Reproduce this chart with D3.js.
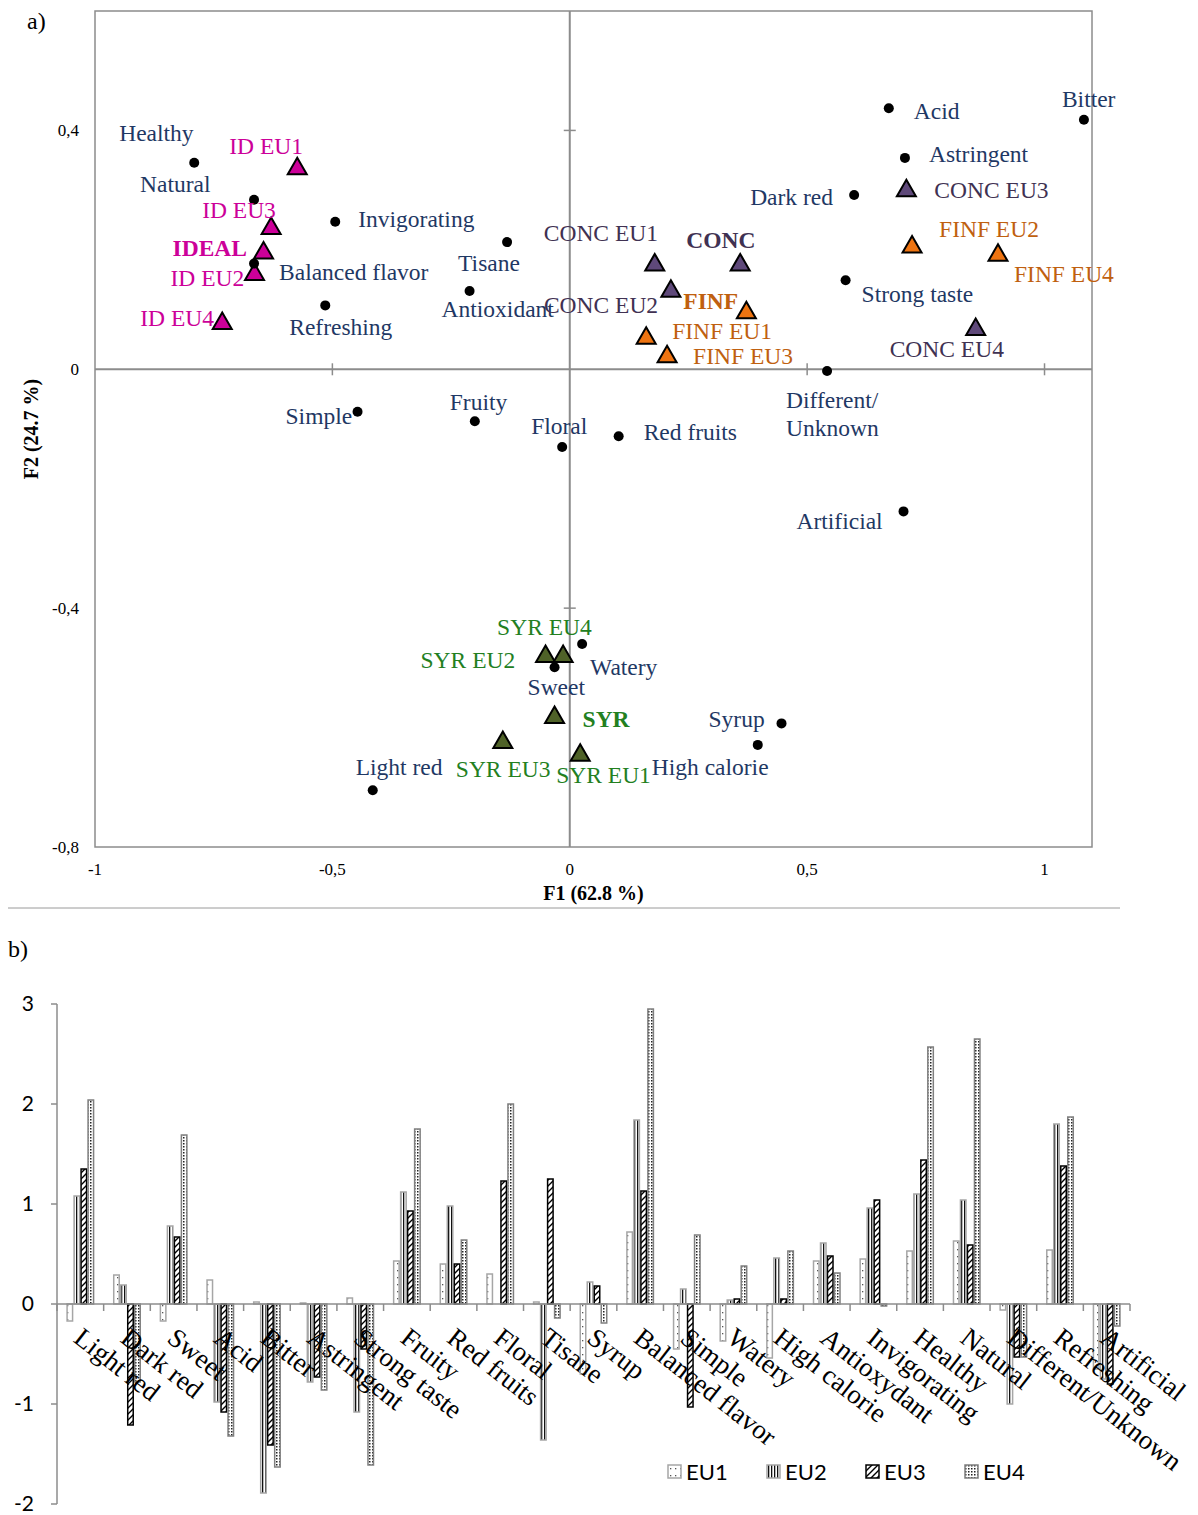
<!DOCTYPE html>
<html>
<head>
<meta charset="utf-8">
<script src="https://cdnjs.cloudflare.com/ajax/libs/d3/7.8.5/d3.min.js"></script>
<style>body{margin:0;background:#fff}</style>
</head>
<body>
<script>
// ---- data: PCA map (a) ----
var attrNames = ["Healthy","Natural","Invigorating","Balanced flavor","Refreshing","Tisane","Antioxidant",
  "Acid","Bitter","Astringent","Dark red","Strong taste","Different/Unknown","Simple","Fruity","Floral",
  "Red fruits","Artificial","Watery","Sweet","Syrup","High calorie","Light red"];
var attrF1 = [-0.791,-0.665,-0.494,-0.665,-0.515,-0.132,-0.211,0.672,1.083,0.706,0.599,0.581,0.542,
  -0.447,-0.200,-0.016,0.103,0.703,0.026,-0.032,0.446,0.396,-0.415];
var attrF2 = [0.346,0.284,0.247,0.177,0.107,0.213,0.131,0.437,0.418,0.354,0.292,0.149,-0.003,
  -0.071,-0.087,-0.130,-0.112,-0.238,-0.460,-0.499,-0.593,-0.629,-0.705];

var prodNames = ["IDEAL","ID EU1","ID EU2","ID EU3","ID EU4","CONC","CONC EU1","CONC EU2","CONC EU3","CONC EU4",
  "FINF","FINF EU1","FINF EU2","FINF EU3","FINF EU4","SYR","SYR EU1","SYR EU2","SYR EU3","SYR EU4"];
var prodF1 = [-0.645,-0.574,-0.664,-0.629,-0.732,0.359,0.179,0.213,0.709,0.855,
  0.372,0.161,0.721,0.205,0.902,-0.032,0.022,-0.051,-0.141,-0.014];
var prodF2 = [0.199,0.340,0.163,0.240,0.081,0.179,0.179,0.135,0.303,0.071,
  0.099,0.056,0.209,0.025,0.195,-0.579,-0.642,-0.477,-0.621,-0.477];
var prodGroup = ["IDEAL","IDEAL","IDEAL","IDEAL","IDEAL","CONC","CONC","CONC","CONC","CONC",
  "FINF","FINF","FINF","FINF","FINF","SYR","SYR","SYR","SYR","SYR"];
var f1Ticks = [-1,-0.5,0,0.5,1];
var f2Ticks = [-0.8,-0.4,0,0.4];

// ---- data: bar chart (b) ----
var categories = ["Light red","Dark red","Sweet","Acid","Bitter","Astringent","Strong taste","Fruity",
  "Red fruits","Floral","Tisane","Syrup","Balanced flavor","Simple","Watery","High calorie","Antioxydant",
  "Invigorating","Healthy","Natural","Different/Unknown","Refreshing","Artificial"];
var seriesNames = ["EU1","EU2","EU3","EU4"];
var eu1 = [-0.17,0.29,-0.17,0.24,0.02,0.01,0.06,0.43,0.40,0.30,0.02,-0.70,0.72,-0.45,-0.37,-0.54,0.43,0.45,0.53,0.63,-0.06,0.54,-0.65];
var eu2 = [1.08,0.19,0.78,-0.98,-1.89,-0.78,-1.08,1.12,0.98,0.00,-1.36,0.22,1.84,0.15,0.04,0.46,0.61,0.96,1.10,1.04,-1.00,1.80,-0.75];
var eu3 = [1.35,-1.21,0.67,-1.08,-1.41,-0.73,-0.45,0.93,0.40,1.23,1.25,0.18,1.13,-1.03,0.05,0.05,0.48,1.04,1.44,0.59,-0.53,1.38,-0.80];
var eu4 = [2.04,-0.78,1.69,-1.32,-1.63,-0.86,-1.61,1.75,0.64,2.00,-0.14,-0.19,2.95,0.69,0.38,0.53,0.31,-0.02,2.57,2.65,-0.53,1.87,-0.22];
var barTicks = [-2,-1,0,1,2,3];

// ---- layout / style ----
var w = 1198, h = 1515;
var serif = "'Liberation Serif','Times New Roman',serif";
var sans = "Lato,'Open Sans',sans-serif";
var axisGray = "#8c8c8c";
var groupFill = {IDEAL:"#cc0099", CONC:"#5f497a", FINF:"#ee7411", SYR:"#4f6228"};
var groupText = {IDEAL:"#cc0099", CONC:"#403152", FINF:"#c0600f", SYR:"#23801f"};
var attrColor = "#1f3864";

// label offsets from marker (px): [dx, dy of baseline]
var labelPos = {
  "Healthy":[-75,-22],"Natural":[-114,-8],"Invigorating":[23,5],"Balanced flavor":[25,16],
  "Refreshing":[-36,30],"Tisane":[-49,29],"Antioxidant":[-28,26],"Acid":[25,11],"Bitter":[-22,-13],
  "Astringent":[24,4],"Dark red":[-104,10],"Strong taste":[16,22],"Different/Unknown":[-41,37],
  "Simple":[-72,12],"Fruity":[-25,-11],"Floral":[-31,-13],"Red fruits":[25,4],"Artificial":[-107,18],
  "Watery":[8,31],"Sweet":[-27,28],"Syrup":[-73,4],"High calorie":[-106,30],"Light red":[-17,-15],
  "ID EU1":[-68,-12],"ID EU3":[-69,-8],"IDEAL":[-91,6],"ID EU2":[-84,14],"ID EU4":[-82,5],
  "CONC EU1":[-111,-21],"CONC":[-54,-14],"CONC EU2":[-127,24],"CONC EU3":[28,10],"CONC EU4":[-86,30],
  "FINF":[-63,-1],"FINF EU1":[26,3],"FINF EU2":[27,-7],"FINF EU3":[26,10],"FINF EU4":[16,29],
  "SYR":[28,12],"SYR EU1":[-24,30],"SYR EU2":[-125,14],"SYR EU3":[-47,37],"SYR EU4":[-66,-19]
};
var means = ["IDEAL","CONC","FINF","SYR"];

var svg = d3.select("body").append("svg").attr("width", w).attr("height", h)
  .style("background", "#fff");

// ================= (a) PCA map =================
var xS = d3.scaleLinear().domain([-1, 1.1]).range([95, 1092]);
var yS = d3.scaleLinear().domain([-0.8, 0.6]).range([847, 11]);

svg.append("text").attr("x", 27).attr("y", 29).text("a)")
  .attr("font-family", serif).attr("font-size", "24px");

svg.append("rect").attr("x", xS(-1)).attr("y", yS(0.6))
  .attr("width", xS(1.1) - xS(-1)).attr("height", yS(-0.8) - yS(0.6))
  .attr("fill", "none").attr("stroke", axisGray).attr("stroke-width", 1.5);

// zero lines
svg.append("line").attr("x1", xS(-1)).attr("x2", xS(1.1)).attr("y1", yS(0)).attr("y2", yS(0))
  .attr("stroke", axisGray).attr("stroke-width", 2);
svg.append("line").attr("x1", xS(0)).attr("x2", xS(0)).attr("y1", yS(0.6)).attr("y2", yS(-0.8))
  .attr("stroke", axisGray).attr("stroke-width", 2);

// cross ticks on zero lines
svg.selectAll(".xt").data(f1Ticks.filter(function(d){ return d != 0 && d != -1; })).enter()
  .append("line").attr("x1", function(d){ return xS(d); }).attr("x2", function(d){ return xS(d); })
  .attr("y1", yS(0) - 6).attr("y2", yS(0) + 6).attr("stroke", axisGray).attr("stroke-width", 1.5);
svg.selectAll(".yt").data(f2Ticks.filter(function(d){ return d != 0 && d != -0.8; })).enter()
  .append("line").attr("y1", function(d){ return yS(d); }).attr("y2", function(d){ return yS(d); })
  .attr("x1", xS(0) - 6).attr("x2", xS(0) + 6).attr("stroke", axisGray).attr("stroke-width", 1.5);

function comma(d) { return String(d).replace(".", ","); }

svg.selectAll(".xl").data(f1Ticks).enter().append("text")
  .attr("x", function(d){ return xS(d); }).attr("y", 875)
  .attr("text-anchor", "middle").attr("font-family", serif).attr("font-size", "17px")
  .text(comma);
svg.selectAll(".yl").data(f2Ticks).enter().append("text")
  .attr("x", 79).attr("y", function(d){ return yS(d) + 6; })
  .attr("text-anchor", "end").attr("font-family", serif).attr("font-size", "17px")
  .text(comma);

svg.append("text").attr("x", (xS(-1) + xS(1.1)) / 2).attr("y", 900)
  .attr("text-anchor", "middle").attr("font-family", serif).attr("font-weight", "bold")
  .attr("font-size", "20px").text("F1 (62.8 %)");
svg.append("text").attr("transform", "translate(38," + ((yS(0.6) + yS(-0.8)) / 2) + ") rotate(-90)")
  .attr("text-anchor", "middle").attr("font-family", serif).attr("font-weight", "bold")
  .attr("font-size", "20px").text("F2 (24.7 %)");

// triangles
var tri = "M0,-8.5L9.5,8L-9.5,8Z";
svg.selectAll(".tri").data(prodNames).enter().append("path")
  .attr("d", tri)
  .attr("transform", function(d, i){ return "translate(" + xS(prodF1[i]) + "," + yS(prodF2[i]) + ")"; })
  .attr("fill", function(d, i){ return groupFill[prodGroup[i]]; })
  .attr("stroke", "#000").attr("stroke-width", 2).attr("stroke-linejoin", "miter");

// attribute dots
svg.selectAll(".dot").data(attrNames).enter().append("circle")
  .attr("cx", function(d, i){ return xS(attrF1[i]); })
  .attr("cy", function(d, i){ return yS(attrF2[i]); })
  .attr("r", 5).attr("fill", "#000");

// attribute labels
svg.selectAll(".alab").data(attrNames).enter().append("text")
  .attr("x", function(d, i){ return xS(attrF1[i]) + labelPos[d][0]; })
  .attr("y", function(d, i){ return yS(attrF2[i]) + labelPos[d][1]; })
  .attr("font-family", serif).attr("font-size", "23.5px").attr("fill", attrColor)
  .each(function(d){
    var t = d3.select(this);
    if (d == "Different/Unknown") {
      var x = t.attr("x");
      t.append("tspan").attr("x", x).text("Different/");
      t.append("tspan").attr("x", x).attr("dy", 28).text("Unknown");
    } else {
      t.text(d);
    }
  });

// product labels
svg.selectAll(".plab").data(prodNames).enter().append("text")
  .attr("x", function(d, i){ return xS(prodF1[i]) + labelPos[d][0]; })
  .attr("y", function(d, i){ return yS(prodF2[i]) + labelPos[d][1]; })
  .attr("font-family", serif).attr("font-size", "23.5px")
  .attr("font-weight", function(d){ return means.indexOf(d) >= 0 ? "bold" : "normal"; })
  .attr("fill", function(d, i){ return groupText[prodGroup[i]]; })
  .text(function(d){ return d; });

// separator
svg.append("line").attr("x1", 8).attr("x2", 1120).attr("y1", 908).attr("y2", 908)
  .attr("stroke", "#9a9a9a").attr("stroke-width", 1);

// ================= (b) bar chart =================
svg.append("text").attr("x", 8).attr("y", 957).text("b)")
  .attr("font-family", serif).attr("font-size", "24px");

var defs = svg.append("defs");
var p1 = defs.append("pattern").attr("id", "pEU1").attr("patternUnits", "userSpaceOnUse")
  .attr("width", 5).attr("height", 7);
p1.append("rect").attr("width", 5).attr("height", 7).attr("fill", "#fff");
p1.append("rect").attr("x", 2).attr("y", 3).attr("width", 1.3).attr("height", 1.3).attr("fill", "#555");

var p2 = defs.append("pattern").attr("id", "pEU2").attr("patternUnits", "userSpaceOnUse")
  .attr("width", 3).attr("height", 3);
p2.append("rect").attr("width", 3).attr("height", 3).attr("fill", "#fff");
p2.append("rect").attr("x", 1).attr("width", 1.3).attr("height", 3).attr("fill", "#111");

var p3 = defs.append("pattern").attr("id", "pEU3").attr("patternUnits", "userSpaceOnUse")
  .attr("width", 6).attr("height", 6);
p3.append("rect").attr("width", 6).attr("height", 6).attr("fill", "#fff");
p3.append("path").attr("d", "M-1,1L1,-1M0,6L6,0M5,7L7,5").attr("stroke", "#000").attr("stroke-width", 1.4);

var p4 = defs.append("pattern").attr("id", "pEU4").attr("patternUnits", "userSpaceOnUse")
  .attr("width", 3).attr("height", 3);
p4.append("rect").attr("width", 3).attr("height", 3).attr("fill", "#fff");
p4.append("rect").attr("width", 1.5).attr("height", 1.5).attr("fill", "#222");

var seriesFill = ["url(#pEU1)", "url(#pEU2)", "url(#pEU3)", "url(#pEU4)"];
var seriesStroke = ["#a6a6a6", "#a6a6a6", "#000", "#7f7f7f"];
var seriesVals = [eu1, eu2, eu3, eu4];

var yB = d3.scaleLinear().domain([-2, 3]).range([1504, 1004]);
var x0 = d3.scaleBand().domain(categories).range([57, 1130]).paddingInner(0.4).paddingOuter(0.2);
var x1 = d3.scaleBand().domain(seriesNames).range([0, x0.bandwidth()]);

// y axis
svg.append("line").attr("x1", 57).attr("x2", 57).attr("y1", yB(3)).attr("y2", yB(-2))
  .attr("stroke", axisGray).attr("stroke-width", 1.5);
svg.selectAll(".byt").data(barTicks).enter().append("line")
  .attr("x1", 51).attr("x2", 57).attr("y1", function(d){ return yB(d); }).attr("y2", function(d){ return yB(d); })
  .attr("stroke", axisGray).attr("stroke-width", 1.5);
svg.selectAll(".byl").data(barTicks).enter().append("text")
  .attr("x", 34).attr("y", function(d){ return yB(d) + 6.5; })
  .attr("text-anchor", "end").attr("font-family", sans).attr("font-size", "21px")
  .text(function(d){ return d; });

// bars
var barData = [];
categories.forEach(function(c, ci){
  seriesNames.forEach(function(s, si){
    barData.push({c: c, s: s, si: si, v: seriesVals[si][ci]});
  });
});
svg.selectAll(".bar").data(barData).enter().append("rect")
  .attr("x", function(d){ return x0(d.c) + x1(d.s) + 0.75; })
  .attr("y", function(d){ return yB(Math.max(0, d.v)); })
  .attr("width", x1.bandwidth() - 1.5)
  .attr("height", function(d){ return Math.abs(yB(d.v) - yB(0)); })
  .attr("fill", function(d){ return seriesFill[d.si]; })
  .attr("stroke", function(d){ return seriesStroke[d.si]; })
  .attr("stroke-width", 1.5);

// x axis
svg.append("line").attr("x1", 57).attr("x2", 1130).attr("y1", yB(0)).attr("y2", yB(0))
  .attr("stroke", axisGray).attr("stroke-width", 1.5);
svg.selectAll(".bxt").data(d3.range(categories.length + 1)).enter().append("line")
  .attr("x1", function(i){ return 57 + i * x0.step(); }).attr("x2", function(i){ return 57 + i * x0.step(); })
  .attr("y1", yB(0)).attr("y2", yB(0) + 7)
  .attr("stroke", axisGray).attr("stroke-width", 1.5);

// category labels
svg.selectAll(".bxl").data(categories).enter().append("text")
  .attr("transform", function(d){
    var cx = x0(d) + x0.bandwidth() / 2;
    return "translate(" + (cx - 8) + ",1341) rotate(38)";
  })
  .attr("font-family", serif).attr("font-size", "27px").attr("fill", "#000")
  .text(function(d){ return d; });

// legend
var leg = svg.selectAll(".leg").data(seriesNames).enter().append("g")
  .attr("transform", function(d, i){ return "translate(" + (668 + i * 99) + ",1465)"; });
leg.append("rect").attr("width", 13).attr("height", 13)
  .attr("fill", function(d, i){ return seriesFill[i]; })
  .attr("stroke", function(d, i){ return seriesStroke[i]; }).attr("stroke-width", 1.5);
leg.append("text").attr("x", 18).attr("y", 15)
  .attr("font-family", sans).attr("font-size", "22px").text(function(d){ return d; });
</script>
</body>
</html>
